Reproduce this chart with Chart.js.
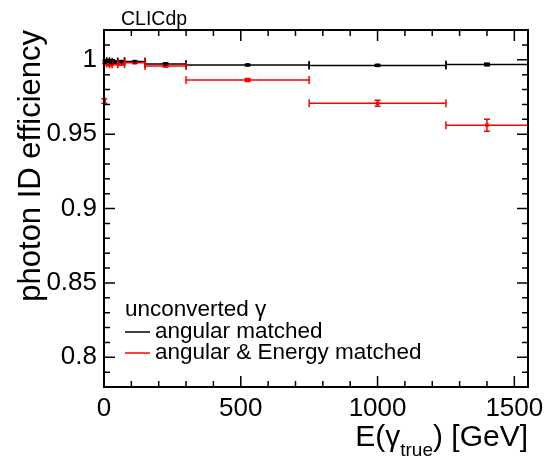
<!DOCTYPE html>
<html>
<head>
<meta charset="utf-8">
<script src="https://cdn.jsdelivr.net/npm/chart.js@4"></script>
<style>
html,body{margin:0;padding:0;background:#fff;}
#wrap{width:553px;height:459px;position:relative;}
</style>
</head>
<body>
<div id="wrap"><canvas id="c" width="553" height="459"></canvas></div>
<script>
// ---- data ----
const blackLo  = [0, 10, 20, 30, 50, 75, 150, 300, 750, 1250];
const blackHi  = [10, 20, 30, 50, 75, 150, 300, 750, 1250, 1550];
const blackEff = [0.9985, 0.9990, 0.9980, 0.9985, 0.9988, 0.9988, 0.9971, 0.9965, 0.9962, 0.9968];
const blackErr = [0.0010, 0.0007, 0.0007, 0.0006, 0.0005, 0.0004, 0.0007, 0.0005, 0.0006, 0.0009];

const redLo  = [0, 2, 10, 20, 30, 50, 75, 150, 300, 750, 1250];
const redHi  = [2, 10, 20, 30, 50, 75, 150, 300, 750, 1250, 1550];
const redEff = [0.9723, 0.9980, 0.9975, 0.9970, 0.9975, 0.9970, 0.9980, 0.9958, 0.9864, 0.9707, 0.9560];
const redErr = [0.0015, 0.0010, 0.0008, 0.0008, 0.0007, 0.0006, 0.0005, 0.0007, 0.0010, 0.0020, 0.0040];

const xTicks = [0, 500, 1000, 1500];
const yTicks = [0.8, 0.85, 0.9, 0.95, 1];
const xMinorStep = 100;
const yMinorStep = 0.01;
const xRange = [0, 1550];
const yRange = [0.78, 1.02];

const FONT = "'Liberation Sans', Arial, Helvetica, sans-serif";

function toPoints(lo, hi, eff){
  return eff.map((v,i)=>({x:(lo[i]+hi[i])/2, y:v}));
}

const series = [
  {lo: blackLo, hi: blackHi, eff: blackEff, err: blackErr, color: '#000000'},
  {lo: redLo, hi: redHi, eff: redEff, err: redErr, color: '#ff0000'}
];

const errPlugin = {
  id: 'errbars',
  beforeDatasetsDraw(chart){
    const ctx = chart.ctx, xs = chart.scales.x, ys = chart.scales.y;
    ctx.save();
    series.forEach(s=>{
      ctx.strokeStyle = s.color;
      ctx.lineWidth = 1.5;
      s.eff.forEach((v,i)=>{
        const x0 = xs.getPixelForValue(s.lo[i]);
        const x1 = xs.getPixelForValue(s.hi[i]);
        const xc = xs.getPixelForValue((s.lo[i]+s.hi[i])/2);
        const y = ys.getPixelForValue(v);
        const ya = ys.getPixelForValue(v + s.err[i]);
        const yb = ys.getPixelForValue(v - s.err[i]);
        ctx.beginPath();
        ctx.moveTo(x0, y); ctx.lineTo(x1, y);
        ctx.moveTo(x0, y-4); ctx.lineTo(x0, y+4);
        ctx.moveTo(x1, y-4); ctx.lineTo(x1, y+4);
        ctx.moveTo(xc, ya); ctx.lineTo(xc, yb);
        ctx.moveTo(xc-3, ya); ctx.lineTo(xc+3, ya);
        ctx.moveTo(xc-3, yb); ctx.lineTo(xc+3, yb);
        ctx.stroke();
      });
    });
    ctx.restore();
  }
};

const framePlugin = {
  id: 'frame',
  afterDraw(chart){
    const ctx = chart.ctx, xs = chart.scales.x, ys = chart.scales.y;
    const a = chart.chartArea;
    ctx.save();
    ctx.strokeStyle = '#000';
    ctx.lineWidth = 2;
    ctx.strokeRect(a.left, a.top, a.right-a.left, a.bottom-a.top);
    ctx.lineWidth = 1.5;
    ctx.beginPath();
    for (let v = xRange[0]; v <= xRange[1]+1e-9; v += xMinorStep){
      const major = xTicks.some(t=>Math.abs(t-v)<1e-6);
      const L = major ? 11 : 6;
      const px = xs.getPixelForValue(v);
      ctx.moveTo(px, a.bottom); ctx.lineTo(px, a.bottom - L);
      ctx.moveTo(px, a.top); ctx.lineTo(px, a.top + L);
    }
    for (let k = Math.ceil(yRange[0]/yMinorStep-1e-6); k*yMinorStep <= yRange[1]+1e-9; k++){
      const v = k*yMinorStep;
      const major = yTicks.some(t=>Math.abs(t-v)<1e-6);
      const L = major ? 11 : 6;
      const py = ys.getPixelForValue(v);
      ctx.moveTo(a.left, py); ctx.lineTo(a.left + L, py);
      ctx.moveTo(a.right, py); ctx.lineTo(a.right - L, py);
    }
    ctx.stroke();

    ctx.fillStyle = '#000';
    ctx.font = '19.5px ' + FONT;
    ctx.textBaseline = 'alphabetic';
    ctx.textAlign = 'left';
    ctx.fillText('CLICdp', 121, 25);

    // y title
    ctx.save();
    ctx.translate(40, a.top);
    ctx.rotate(-Math.PI/2);
    ctx.font = '31px ' + FONT;
    ctx.textAlign = 'right';
    ctx.fillText('photon ID efficiency', 0, 0);
    ctx.restore();

    // x title
    const big = '30px ' + FONT, small = '19px ' + FONT;
    const p1 = 'E(\u03b3', p2 = 'true', p3 = ') [GeV]';
    ctx.font = big; const w1 = ctx.measureText(p1).width, w3 = ctx.measureText(p3).width;
    ctx.font = small; const w2 = ctx.measureText(p2).width;
    let x = a.right - (w1 + w2 + w3);
    const yb = 446;
    ctx.textAlign = 'left';
    ctx.font = big; ctx.fillText(p1, x, yb); x += w1;
    ctx.font = small; ctx.fillText(p2, x, yb + 10); x += w2;
    ctx.font = big; ctx.fillText(p3, x, yb);

    // legend
    ctx.font = '22.5px ' + FONT;
    ctx.fillText('unconverted \u03b3', 125, 316);
    ctx.fillText('angular matched', 155, 338);
    ctx.fillText('angular & Energy matched', 155, 359);
    ctx.lineWidth = 1.5;
    ctx.strokeStyle = '#000';
    ctx.beginPath(); ctx.moveTo(125, 332); ctx.lineTo(150, 332); ctx.stroke();
    ctx.strokeStyle = '#ff0000';
    ctx.beginPath(); ctx.moveTo(125, 353); ctx.lineTo(150, 353); ctx.stroke();
    ctx.restore();
  }
};

new Chart(document.getElementById('c'), {
  type: 'scatter',
  data: {
    datasets: series.map(s=>({
      data: toPoints(s.lo, s.hi, s.eff),
      pointStyle: 'rect',
      pointRadius: 2.5,
      pointBorderWidth: 0,
      backgroundColor: s.color,
      borderColor: s.color,
      showLine: false
    }))
  },
  options: {
    responsive: false,
    animation: false,
    devicePixelRatio: 1,
    layout: {padding: {top: 30, right: 25, left: 0, bottom: 0}},
    plugins: {legend: {display: false}, tooltip: {enabled: false}},
    scales: {
      x: {
        type: 'linear', min: xRange[0], max: xRange[1],
        afterBuildTicks(sc){ sc.ticks = xTicks.map(v=>({value:v})); },
        afterFit(sc){ sc.height = 72; },
        grid: {display: false, drawTicks: false},
        border: {display: false},
        ticks: {color: '#000', font: {family: FONT, size: 26}, padding: 6, maxRotation: 0,
                callback: v => String(v)}
      },
      y: {
        type: 'linear', min: yRange[0], max: yRange[1],
        afterBuildTicks(sc){ sc.ticks = yTicks.map(v=>({value:v})); },
        afterFit(sc){ sc.width = 104; },
        grid: {display: false, drawTicks: false},
        border: {display: false},
        ticks: {color: '#000', font: {family: FONT, size: 26}, padding: 7,
                callback: v => String(Math.round(v*100)/100)}
      }
    }
  },
  plugins: [errPlugin, framePlugin]
});
</script>
</body>
</html>
